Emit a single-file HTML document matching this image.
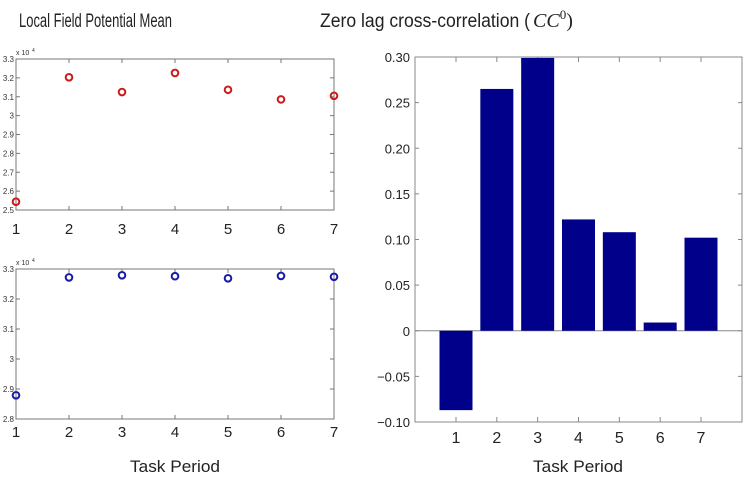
<!DOCTYPE html>
<html><head><meta charset="utf-8"><style>
html,body{margin:0;padding:0;background:#fff;width:744px;height:479px;overflow:hidden}
svg{display:block;font-family:"Liberation Sans",sans-serif}
</style></head><body>
<svg id="c" width="744" height="479">
<text x="19" y="27" font-size="19" textLength="153" lengthAdjust="spacingAndGlyphs" fill="#222">Local Field Potential Mean</text>
<text x="320" y="27" font-size="19" textLength="210" lengthAdjust="spacingAndGlyphs" fill="#222">Zero lag cross-correlation (</text>
<text x="533" y="27" font-size="20" font-style="italic" font-family="Liberation Serif, serif" fill="#222">CC<tspan dy="-8" font-size="13" font-style="normal">0</tspan><tspan dy="8" font-style="normal">)</tspan></text>
<text x="175" y="472" font-size="17" text-anchor="middle" textLength="90" lengthAdjust="spacingAndGlyphs" fill="#222">Task Period</text>
<text x="578" y="472" font-size="17" text-anchor="middle" textLength="90" lengthAdjust="spacingAndGlyphs" fill="#222">Task Period</text>
<g id="g"></g>
</svg>
<script>
const periods=[1,2,3,4,5,6,7];
const topValues=[2.544,3.203,3.125,3.226,3.137,3.086,3.105];
const topTicks=[2.5,2.6,2.7,2.8,2.9,3,3.1,3.2,3.3];
const bottomValues=[2.879,3.272,3.279,3.276,3.269,3.277,3.274];
const bottomTicks=[2.8,2.9,3,3.1,3.2,3.3];
const ccValues=[-0.087,0.265,0.299,0.122,0.108,0.009,0.102];
const ccTicks=[-0.10,-0.05,0,0.05,0.10,0.15,0.20,0.25,0.30];
const ccTickLabels=["\u22120.10","\u22120.05","0","0.05","0.10","0.15","0.20","0.25","0.30"];

const NS="http://www.w3.org/2000/svg",G=document.getElementById('g');
function el(t,a,txt){const e=document.createElementNS(NS,t);for(const k in a)e.setAttribute(k,a[k]);if(txt!=null)e.textContent=txt;G.appendChild(e);return e;}

function scatter(name,L,R,T,B,ymin,ymax,ticks,vals,color,xlabY){
  const x=v=>L+(v-1)/6*(R-L), y=v=>B-(v-ymin)/(ymax-ymin)*(B-T);
  let e=el('rect',{x:L,y:T,width:R-L,height:B-T,fill:'none',stroke:'#777','stroke-width':1});
  
  
  ticks.forEach(t=>{
    el('line',{x1:L,x2:L+4,y1:y(t),y2:y(t),stroke:'#777'});
    el('line',{x1:R,x2:R-4,y1:y(t),y2:y(t),stroke:'#777'});
    e=el('text',{x:L-2,y:y(t)+3,'font-size':8,'text-anchor':'end',fill:'#333'},String(t));
    
    
  });
  periods.forEach(p=>{
    el('line',{x1:x(p),x2:x(p),y1:T,y2:T+4,stroke:'#777'});
    el('line',{x1:x(p),x2:x(p),y1:B,y2:B-4,stroke:'#777'});
    e=el('text',{x:x(p),y:xlabY,'font-size':15,'text-anchor':'middle',fill:'#222'},String(p));
    
    
  });
  e=el('text',{x:L,y:T-4,'font-size':7,fill:'#333'},'x 10');
  
  
  el('text',{x:L+16,y:T-7,'font-size':5,fill:'#333'},'4');
  vals.forEach((v,i)=>{
    const c=el('circle',{cx:x(periods[i]),cy:y(v),r:3.3,fill:'none',stroke:color,'stroke-width':2});
    
    
  });
}
scatter('top-lfp',16,334,59,210,2.5,3.3,topTicks,topValues,'#cc1a1a',234);
scatter('bottom-lfp',16,334,269,419,2.8,3.3,bottomTicks,bottomValues,'#1a1aa8',437);

(function(){
  const L=415,R=742,T=57,B=422,ymin=-0.10,ymax=0.30;
  const x=p=>456+(p-1)*(701-456)/6, y=v=>B-(v-ymin)/(ymax-ymin)*(B-T);
  let e=el('rect',{x:L,y:T,width:R-L,height:B-T,fill:'none',stroke:'#888','stroke-width':1});
  
  
  ccTicks.forEach((t,i)=>{
    el('line',{x1:L,x2:L+4,y1:y(t),y2:y(t),stroke:'#888'});
    el('line',{x1:R,x2:R-4,y1:y(t),y2:y(t),stroke:'#888'});
    e=el('text',{x:L-5,y:y(t)+5,'font-size':13,'text-anchor':'end',fill:'#222'},ccTickLabels[i]);
    
    
  });
  periods.forEach(p=>{
    el('line',{x1:x(p),x2:x(p),y1:T,y2:T+5,stroke:'#888'});
    el('line',{x1:x(p),x2:x(p),y1:B,y2:B-5,stroke:'#888'});
    e=el('text',{x:x(p),y:443,'font-size':16,'text-anchor':'middle',fill:'#222'},String(p));
    
    
  });
  el('line',{x1:L,x2:R,y1:y(0),y2:y(0),stroke:'#888'});
  ccValues.forEach((v,i)=>{
    const y0=y(0),y1=y(v);
    const b=el('rect',{x:x(periods[i])-16.5,y:Math.min(y0,y1),width:33,height:Math.abs(y1-y0),fill:'#00008b'});
    
    
  });
})();
</script>
</body></html>
